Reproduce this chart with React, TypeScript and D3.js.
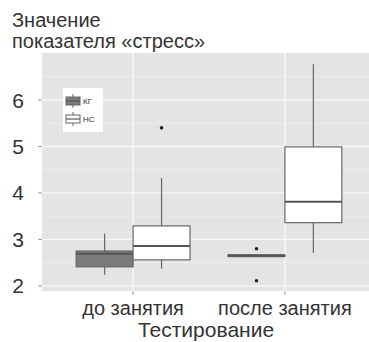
import * as d3 from "d3";

const groups = ["до занятия", "после занятия"];
const series = ["КГ", "НС"];
const seriesFill = ["#7b7b7b", "#ffffff"];
// [min whisker, q1, median, q3, max whisker]
const kgStats = [
  [2.24, 2.41, 2.69, 2.75, 3.12],
  [2.63, 2.63, 2.65, 2.67, 2.67],
];
const ncStats = [
  [2.37, 2.56, 2.86, 3.29, 4.32],
  [2.71, 3.36, 3.81, 4.99, 6.77],
];
const kgOutliers = [[], [2.8, 2.11]];
const ncOutliers = [[5.4], []];
const yTicks = [2, 3, 4, 5, 6];
const yMinor = [2.5, 3.5, 4.5, 5.5, 6.5];

export default function App() {
  const W = 369, H = 342;
  const left = 42, right = 376, top = 53, bottom = 291;
  const x = d3.scaleLinear().domain([0.4, 2.6]).range([left, right]);
  const y = d3.scaleLinear().domain([1.89, 7.01]).range([bottom, top]);
  const unit = x(2) - x(1);
  const boxW = unit * 0.375;
  const font = "'Liberation Sans', Arial, sans-serif";
  const stats = [kgStats, ncStats];
  const outl = [kgOutliers, ncOutliers];
  const ink = "#333";

  return (
    <svg width={W} height={H} style={{ position: "absolute", left: 0, top: 0 }} fontFamily={font}>
      <rect width={W} height={H} fill="#fff" />
      <text x={12} y={27} fontSize={20} fill={ink}>Значение</text>
      <text x={12} y={48} fontSize={20} fill={ink}>показателя «стресс»</text>
      <rect x={left} y={top} width={right - left} height={bottom - top} fill="#e4e4e4" />
      {yMinor.map((t) => (
        <line key={"m" + t} x1={left} x2={right} y1={y(t)} y2={y(t)} stroke="#f0f0f0" strokeWidth={0.8} />
      ))}
      {yTicks.map((t) => (
        <line key={"g" + t} x1={left} x2={right} y1={y(t)} y2={y(t)} stroke="#f8f8f8" strokeWidth={1.4} />
      ))}
      {groups.map((g, i) => (
        <line key={"v" + g} x1={x(i + 1)} x2={x(i + 1)} y1={top} y2={bottom} stroke="#f8f8f8" strokeWidth={1.4} />
      ))}
      {yTicks.map((t) => (
        <g key={"t" + t}>
          <line x1={left - 4} x2={left} y1={y(t)} y2={y(t)} stroke="#999" />
          <text x={24} y={y(t)} dy="0.36em" textAnchor="end" fontSize={21} fill={ink}>{t}</text>
        </g>
      ))}
      {groups.map((g, i) =>
        series.map((s, j) => {
          const st = stats[j][i];
          const x0 = x(i + 1) + (j === 0 ? -boxW : 0);
          const cx = x0 + boxW / 2;
          return (
            <g key={g + s}>
              <line x1={cx} x2={cx} y1={y(st[4])} y2={y(st[3])} stroke="#666" strokeWidth={1.2} />
              <line x1={cx} x2={cx} y1={y(st[1])} y2={y(st[0])} stroke="#666" strokeWidth={1.2} />
              <rect x={x0} y={y(st[3])} width={boxW} height={Math.max(0, y(st[1]) - y(st[3]))}
                fill={seriesFill[j]} stroke="#666" strokeWidth={1.2} />
              <line x1={x0} x2={x0 + boxW} y1={y(st[2])} y2={y(st[2])} stroke="#555" strokeWidth={2} />
              {outl[j][i].map((o, k) => (
                <circle key={k} cx={cx} cy={y(o)} r={1.8} fill="#222" />
              ))}
            </g>
          );
        })
      )}
      {groups.map((g, i) => (
        <g key={"x" + g}>
          <line x1={x(i + 1)} x2={x(i + 1)} y1={bottom} y2={bottom + 4} stroke="#999" />
          <text x={x(i + 1)} y={315} textAnchor="middle" fontSize={20} fill={ink}>{g}</text>
        </g>
      ))}
      <text x={206} y={337} textAnchor="middle" fontSize={21} fill={ink}>Тестирование</text>
      <rect x={63} y={88} width={40} height={44} fill="#fff" />
      {series.map((s, j) => {
        const cy = 101 + j * 18;
        return (
          <g key={"l" + s}>
            <line x1={73} x2={73} y1={cy - 7} y2={cy + 7} stroke="#666" />
            <rect x={66} y={cy - 4} width={14} height={8} fill={seriesFill[j]} stroke="#666" />
            <line x1={66} x2={80} y1={cy} y2={cy} stroke="#555" strokeWidth={1.2} />
            <text x={83} y={cy} dy="0.35em" fontSize={8} fill="#333">{s}</text>
          </g>
        );
      })}
    </svg>
  );
}
